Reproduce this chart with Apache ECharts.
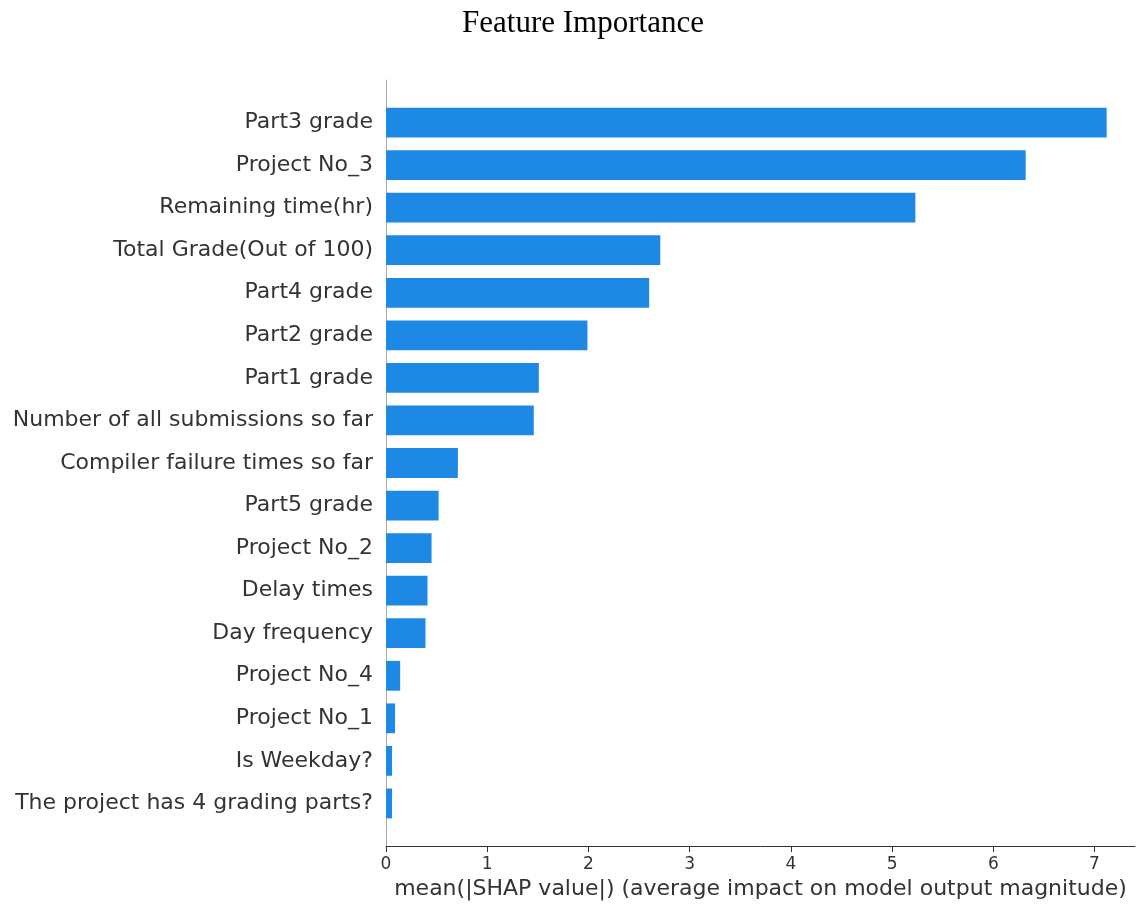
<!DOCTYPE html>
<html>
<head>
<meta charset="utf-8">
<title>Feature Importance</title>
<script src="https://cdn.jsdelivr.net/npm/echarts@6/dist/echarts.min.js"></script>
<style>
  html, body { margin: 0; padding: 0; background: #ffffff; }
  #chart { width: 1136px; height: 905px; }
</style>
</head>
<body>
<div id="chart"></div>
<script>
// Features ranked by mean |SHAP value|, most important first
const features = [
  'Part3 grade',
  'Project No_3',
  'Remaining time(hr)',
  'Total Grade(Out of 100)',
  'Part4 grade',
  'Part2 grade',
  'Part1 grade',
  'Number of all submissions so far',
  'Compiler failure times so far',
  'Part5 grade',
  'Project No_2',
  'Delay times',
  'Day frequency',
  'Project No_4',
  'Project No_1',
  'Is Weekday?',
  'The project has 4 grading parts?'
];
const meanAbsShap = [
  7.12, 6.32, 5.23, 2.71, 2.60, 1.99, 1.51, 1.46, 0.71,
  0.52, 0.45, 0.41, 0.39, 0.14, 0.09, 0.06, 0.06
];
const xTicks = [0, 1, 2, 3, 4, 5, 6, 7];

// One empty slot above and below the bars leaves breathing room inside the axis
const yCats = [''].concat(features, ['']);
const yVals = [null].concat(meanAbsShap, [null]);

const chart = echarts.init(document.getElementById('chart'));
chart.setOption({
  backgroundColor: '#ffffff',
  animation: false,
  title: {
    text: 'Feature Importance',
    left: 578,
    top: 3,
    textAlign: 'center',
    textStyle: {
      fontFamily: '"Liberation Serif", "Times New Roman", serif',
      fontSize: 31,
      fontWeight: 'normal',
      color: '#000000'
    }
  },
  grid: { left: 386, right: 1, top: 80, bottom: 58, containLabel: false },
  xAxis: {
    type: 'value',
    min: 0,
    max: 7.4,
    interval: 1,
    name: 'mean(|SHAP value|) (average impact on model output magnitude)',
    nameLocation: 'middle',
    nameGap: 32,
    nameTextStyle: {
      fontFamily: '"DejaVu Sans", sans-serif',
      fontSize: 22,
      color: '#333333'
    },
    axisLine: { show: true, lineStyle: { color: '#333333', width: 1 } },
    axisTick: { show: true, length: 6, lineStyle: { color: '#333333' }, customValues: xTicks },
    axisLabel: {
      customValues: xTicks,
      margin: 10,
      fontFamily: '"DejaVu Sans", sans-serif',
      fontSize: 17,
      color: '#333333'
    },
    splitLine: { show: false }
  },
  yAxis: {
    type: 'category',
    data: yCats,
    inverse: true,
    boundaryGap: false,
    axisLine: { show: true, lineStyle: { color: '#aaaaaa', width: 1 } },
    axisTick: { show: false },
    axisLabel: {
      interval: 0,
      margin: 13,
      fontFamily: '"DejaVu Sans", sans-serif',
      fontSize: 22,
      color: '#333333'
    },
    splitLine: { show: false }
  },
  series: [{
    type: 'bar',
    data: yVals,
    barWidth: '70%',
    itemStyle: { color: '#1E88E5' }
  }]
});
</script>
</body>
</html>
